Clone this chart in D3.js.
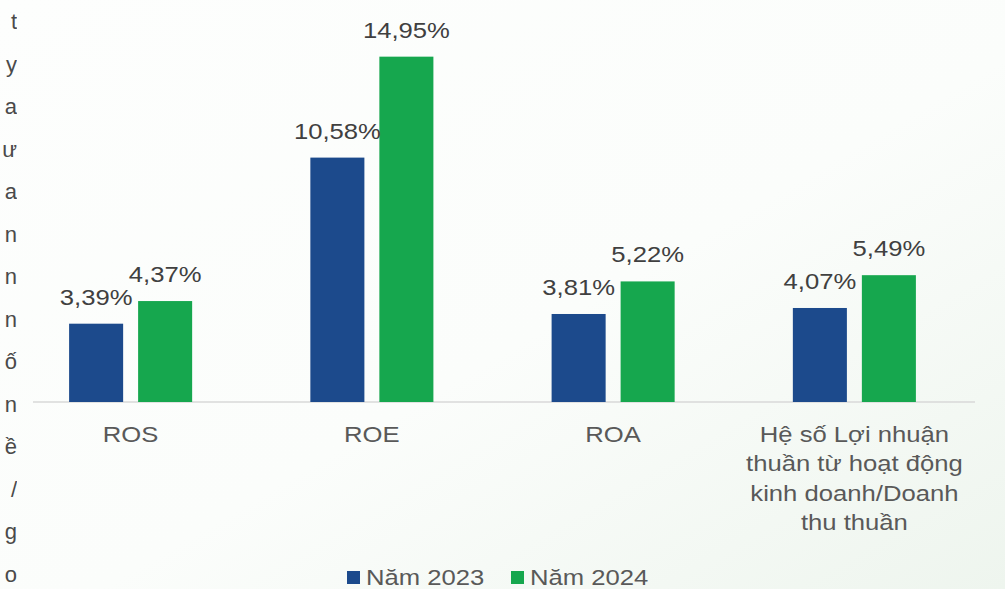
<!DOCTYPE html>
<html>
<head>
<meta charset="utf-8">
<script src="https://cdn.jsdelivr.net/npm/d3@7"></script>
<style>
  body { margin: 0; background: #fbfdfb; }
  svg { display: block; }
</style>
</head>
<body>
<svg id="chart" width="1005" height="589"></svg>
<script>
// chart data
var categories = ["ROS", "ROE", "ROA", "Hệ số Lợi nhuận|thuần từ hoạt động|kinh doanh/Doanh|thu thuần"]
var series = ["Năm 2023", "Năm 2024"]
var values2023 = [3.39, 10.58, 3.81, 4.07]
var values2024 = [4.37, 14.95, 5.22, 5.49]
var colors = ["#1c4a8c", "#16a74e"]
// letters of the cut-off page text on the left edge
var edgeLetters = ["t", "y", "a", "ư", "a", "n", "n", "n", "ố", "n", "ề", "/", "g", "o"]

var FONT = "Liberation Sans, Arial, sans-serif"
var SX = 1.14   // the source text is drawn a bit wide

var svg = d3.select("#chart")

// faint background wash
var defs = svg.append("defs")
var grad = defs.append("linearGradient")
    .attr("id", "bg")
    .attr("x1", "0%").attr("y1", "0%")
    .attr("x2", "100%").attr("y2", "100%")
grad.append("stop").attr("offset", "0%").attr("stop-color", "#fdfefd")
grad.append("stop").attr("offset", "55%").attr("stop-color", "#fbfdfb")
grad.append("stop").attr("offset", "100%").attr("stop-color", "#eef5ee")
svg.append("rect")
    .attr("width", 1005).attr("height", 589)
    .attr("fill", "url(#bg)")

defs.append("clipPath").attr("id", "edgeclip")
    .append("rect").attr("x", 0).attr("y", 0).attr("width", 17).attr("height", 589)

var baseline = 402

var x0 = d3.scaleBand()
    .domain(categories)
    .range([10, 975])
    .paddingInner(0.49)
    .paddingOuter(0.245)

var x1 = d3.scaleBand()
    .domain(series)
    .range([0, x0.bandwidth()])
    .paddingInner(0.217)

var y = d3.scaleLinear()
    .domain([0, 16])
    .range([baseline, baseline - 16 * 23.1])

var rows = categories.map(function(c, i) {
    return [
        {cat: c, s: series[0], v: values2023[i], color: colors[0]},
        {cat: c, s: series[1], v: values2024[i], color: colors[1]}
    ]
})

function at(x, yy) {
    return "translate(" + x + "," + yy + ") scale(" + SX + ",1)"
}

// axis line
svg.append("line")
    .attr("x1", 33).attr("x2", 975)
    .attr("y1", baseline).attr("y2", baseline)
    .attr("stroke", "#d9d9d9")
    .attr("stroke-width", 1.5)

var groups = svg.selectAll(".grp")
    .data(rows)
    .enter()
    .append("g")
    .attr("class", "grp")
    .attr("transform", function(d) { return "translate(" + x0(d[0].cat) + ",0)" })

groups.selectAll("rect")
    .data(function(d) { return d })
    .enter()
    .append("rect")
    .attr("x", function(d) { return x1(d.s) })
    .attr("width", x1.bandwidth())
    .attr("y", function(d) { return y(d.v) })
    .attr("height", function(d) { return baseline - y(d.v) })
    .attr("fill", function(d) { return d.color })

groups.selectAll(".val")
    .data(function(d) { return d })
    .enter()
    .append("text")
    .attr("class", "val")
    .attr("transform", function(d) { return at(x1(d.s) + x1.bandwidth() / 2, y(d.v) - 19) })
    .attr("text-anchor", "middle")
    .attr("font-family", FONT)
    .attr("font-size", 22.5)
    .attr("fill", "#404040")
    .text(function(d) { return d.v.toFixed(2).replace(".", ",") + "%" })

// category labels
var catText = svg.selectAll(".cat")
    .data(categories)
    .enter()
    .append("text")
    .attr("class", "cat")
    .attr("transform", function(d) { return at(x0(d) + x0.bandwidth() / 2, 442) })
    .attr("text-anchor", "middle")
    .attr("font-family", FONT)
    .attr("font-size", 22.5)
    .attr("fill", "#595959")

catText.selectAll("tspan")
    .data(function(d) { return d.split("|") })
    .enter()
    .append("tspan")
    .attr("x", 0)
    .attr("y", function(d, i) { return i * 29.3 })
    .text(function(d) { return d })

// legend
var legend = svg.append("g").attr("transform", "translate(347,0)")
var legendItems = legend.selectAll("g")
    .data(series)
    .enter()
    .append("g")
    .attr("transform", function(d, i) { return "translate(" + (i * 164) + ",0)" })
legendItems.append("rect")
    .attr("x", 0).attr("y", 571)
    .attr("width", 13).attr("height", 13)
    .attr("fill", function(d, i) { return colors[i] })
legendItems.append("text")
    .attr("transform", at(19, 585))
    .attr("font-family", FONT)
    .attr("font-size", 22.5)
    .attr("fill", "#595959")
    .text(function(d) { return d })

// clipped page text at left edge
svg.append("g")
    .attr("clip-path", "url(#edgeclip)")
    .selectAll("text")
    .data(edgeLetters)
    .enter()
    .append("text")
    .attr("x", 17)
    .attr("y", function(d, i) { return 29 + i * 42.5 })
    .attr("text-anchor", "end")
    .attr("font-family", FONT)
    .attr("font-size", 22)
    .attr("fill", "#4a4a4a")
    .text(function(d) { return d })
</script>
</body>
</html>
